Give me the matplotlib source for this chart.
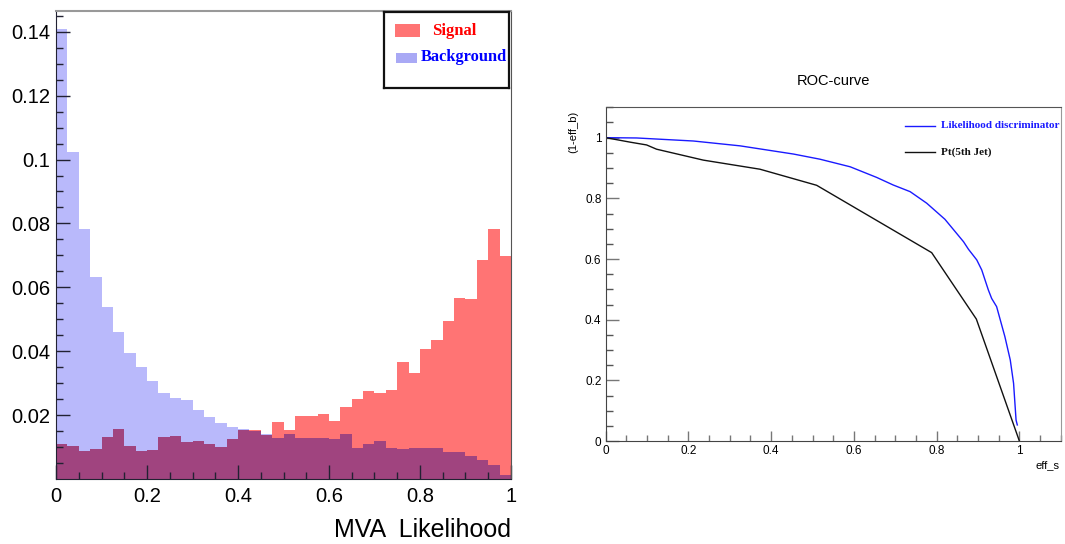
import numpy as np
import matplotlib.pyplot as plt
import matplotlib.patches as mpatches
from matplotlib.lines import Line2D

# Histogram contents (40 bins on 0..1)
signal = [0.0111, 0.0102, 0.0087, 0.0095, 0.0130, 0.0156, 0.0102, 0.0087, 0.0090, 0.0130,
          0.0135, 0.0116, 0.0118, 0.0111, 0.0099, 0.0125, 0.0153, 0.0153, 0.0138, 0.0179,
          0.0153, 0.0198, 0.0198, 0.0205, 0.0181, 0.0224, 0.0249, 0.0276, 0.0268, 0.0279,
          0.0366, 0.0331, 0.0407, 0.0436, 0.0496, 0.0568, 0.0562, 0.0686, 0.0783, 0.0697]
background = [0.1410, 0.1025, 0.0783, 0.0632, 0.0539, 0.0461, 0.0394, 0.0350, 0.0307, 0.0268,
              0.0253, 0.0247, 0.0216, 0.0193, 0.0174, 0.0163, 0.0158, 0.0150, 0.0142, 0.0127,
              0.0140, 0.0127, 0.0127, 0.0127, 0.0125, 0.0142, 0.0098, 0.0111, 0.0118, 0.0098,
              0.0095, 0.0098, 0.0098, 0.0098, 0.0084, 0.0084, 0.0072, 0.0058, 0.0045, 0.0011]
hist_xticks = [0, 0.2, 0.4, 0.6, 0.8, 1]
hist_xlabels = ["0", "0.2", "0.4", "0.6", "0.8", "1"]
hist_yticks = [0.02, 0.04, 0.06, 0.08, 0.10, 0.12, 0.14]
hist_ylabels = ["0.02", "0.04", "0.06", "0.08", "0.1", "0.12", "0.14"]

# ROC curves
lik_eff_s = [0, 0.075, 0.212, 0.325, 0.454, 0.518, 0.591, 0.655, 0.695, 0.736, 0.776, 0.820,
             0.865, 0.877, 0.897, 0.909, 0.925, 0.933, 0.945, 0.965, 0.978, 0.986, 0.992, 0.995]
lik_rej_b = [1.0, 0.999, 0.989, 0.973, 0.946, 0.929, 0.904, 0.869, 0.844, 0.822, 0.784, 0.731,
             0.657, 0.632, 0.597, 0.564, 0.498, 0.470, 0.443, 0.344, 0.267, 0.190, 0.069, 0.053]
pt_eff_s = [0, 0.06, 0.099, 0.123, 0.236, 0.373, 0.510, 0.788, 0.896, 1.0]
pt_rej_b = [1.0, 0.985, 0.976, 0.962, 0.926, 0.896, 0.843, 0.621, 0.402, 0.0]
roc_ticks = [0, 0.2, 0.4, 0.6, 0.8, 1]
roc_labels = ["0", "0.2", "0.4", "0.6", "0.8", "1"]

sans = ["Liberation Sans", "DejaVu Sans"]
serif = ["Liberation Serif", "DejaVu Serif"]

fig = plt.figure(figsize=(10.65, 5.44), dpi=100)

# ---- left: MVA output histogram ----
ax1 = fig.add_axes([0.0526, 0.1195, 0.4272, 0.8603])
edges = np.linspace(0, 1, len(signal) + 1)
w = edges[1] - edges[0]
ax1.bar(edges[:-1], background, width=w, align="edge", color="#b9b9fb", linewidth=0)
ax1.bar(edges[:-1], signal, width=w, align="edge", color="#ff7474", linewidth=0)
# region where both histograms overlap
ax1.bar(edges[:-1], np.minimum(signal, background), width=w, align="edge",
        color="#a0447f", linewidth=0)
ax1.set_xlim(0, 1)
ax1.set_ylim(0, 0.1465)
ax1.set_xticks(hist_xticks)
ax1.set_xticklabels(hist_xlabels, family=sans, fontsize=14.5)
ax1.set_xticks(np.arange(0, 1.001, 0.05), minor=True)
ax1.set_yticks(hist_yticks)
ax1.set_yticklabels(hist_ylabels, family=sans, fontsize=14.5)
ax1.set_yticks(np.arange(0.005, 0.146, 0.005), minor=True)
ax1.tick_params(which="major", direction="in", length=10, width=1, color="#222233", pad=4)
ax1.tick_params(which="minor", direction="in", length=5, width=1, color="#222233")
ax1.tick_params(axis="x", which="major", pad=6)
ax1.spines["left"].set_color("#222233")
ax1.spines["bottom"].set_color("#222233")
ax1.spines["top"].set_color("#999999")
ax1.spines["top"].set_linewidth(1.5)
ax1.spines["right"].set_color("#555555")
fig.text(511 / 1065, 1 - 537 / 544, "MVA  Likelihood", ha="right", va="baseline",
         family=sans, fontsize=18)

# legend box of the histogram
lax = fig.add_axes([0.3608, 0.8377, 0.1174, 0.1408])
lax.set_xticks([])
lax.set_yticks([])
for s in lax.spines.values():
    s.set_linewidth(1.6)
    s.set_color("#111111")
lax.add_patch(mpatches.Rectangle((0.086, 0.666), 0.2, 0.17, color="#ff7474", lw=0))
lax.add_patch(mpatches.Rectangle((0.094, 0.326), 0.17, 0.139, color="#a9a9f5", lw=0))
lax.text(0.384, 0.752, "Signal", color="red", fontweight="bold", family=serif,
         fontsize=12, va="center")
lax.text(0.295, 0.405, "Background", color="blue", fontweight="bold", family=serif,
         fontsize=11.8, va="center")

# ---- right: ROC curve ----
ax2 = fig.add_axes([0.5687, 0.1893, 0.4273, 0.6134])
ax2.plot(lik_eff_s, lik_rej_b, color="#1a1aff", lw=1.0)
ax2.plot(pt_eff_s, pt_rej_b, color="#111111", lw=1.0)
ax2.set_xlim(0, 1.1)
ax2.set_ylim(0, 1.1)
ax2.set_xticks(roc_ticks)
ax2.set_xticklabels(roc_labels, family=sans, fontsize=8.5)
ax2.set_yticks(roc_ticks)
ax2.set_yticklabels(roc_labels, family=sans, fontsize=8.5)
ax2.set_xticks(np.arange(0, 1.101, 0.05), minor=True)
ax2.set_yticks(np.arange(0, 1.101, 0.05), minor=True)
ax2.tick_params(axis="y", which="major", direction="in", length=9, width=1, color="#777777", pad=3)
ax2.tick_params(axis="y", which="minor", direction="in", length=5, width=1, color="#555555")
ax2.tick_params(axis="x", which="major", direction="in", length=7, width=1, color="#777777", pad=3)
ax2.tick_params(axis="x", which="minor", direction="in", length=4, width=1, color="#777777")
ax2.spines["left"].set_color("#444444")
ax2.spines["bottom"].set_color("#444444")
ax2.spines["top"].set_color("#555555")
ax2.spines["right"].set_color("#999999")
ax2.set_title("ROC-curve", family=sans, fontsize=10.5, pad=16)
fig.text(1060 / 1065, 1 - 465 / 544, "eff_s", ha="right", va="center", family=sans, fontsize=8)
fig.text(573 / 1065, 1 - 132 / 544, "(1-eff_b)", ha="center", va="center", rotation=90,
         family=sans, fontsize=8)

# legend of the ROC plot
for y, col, lab in [(0.945, "#1a1aff", "Likelihood discriminator"), (0.865, "#111111", "Pt(5th Jet)")]:
    ax2.add_line(Line2D([0.658, 0.724], [y, y], color=col, lw=1.0, transform=ax2.transAxes))
    ax2.text(0.737, y, lab, color=col, fontweight="bold", family=serif, fontsize=8,
             va="center", transform=ax2.transAxes)

fig.savefig("out.png", dpi=100)
